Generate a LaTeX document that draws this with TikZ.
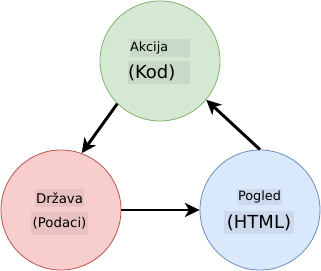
\documentclass[tikz,border=0pt]{standalone}
\usepackage{fontspec}
\setmainfont{DejaVu Sans}
\usetikzlibrary{arrows.meta}
\definecolor{cgreen}{HTML}{82b366}
\definecolor{cred}{HTML}{b85450}
\definecolor{cblue}{HTML}{6c8ebf}
\definecolor{tgreen}{HTML}{d5e8d4}
\definecolor{tred}{HTML}{f8cecc}
\definecolor{tblue}{HTML}{dae8fc}

\begin{document}
\begin{tikzpicture}[x=0.75pt, y=-0.75pt, line cap=round,
  state/.style={circle, draw=#1, line width=0.6pt, minimum size=90pt, inner sep=0pt},
  lbl/.style={fill=black, fill opacity=0.06, text opacity=1, inner sep=0pt},
  small/.style={font=\fontsize{9.6}{10}\selectfont},
  mid/.style={font=\fontsize{10}{12}\selectfont},
  big/.style={font=\fontsize{13.5}{14}\selectfont},
  arr/.style={-{Stealth[length=11pt, width=10.5pt, inset=3pt]}, line width=2.2pt, line cap=butt}]
  \useasboundingbox (0,0) rectangle (321,271);
  % states
  \node[state=cgreen, fill=tgreen] (akcija) at (160,61) {};
  \node[state=cred, fill=tred] (drzava) at (61,210) {};
  \node[state=cblue, fill=tblue] (pogled) at (260,210) {};
  % labels
  \node[lbl, small, text width=45pt, minimum height=13.5pt, align=left] (akcijaA) at (160,48) {Akcija};
  \node[lbl, big, text width=46.5pt, minimum height=17.25pt, align=left] (akcijaB) at (159,72.5) {(Kod)};
  \node[lbl, mid, minimum width=36.75pt, minimum height=13.5pt] (drzavaA) at (59.5,198) {Država};
  \node[lbl, mid, minimum width=42.75pt, minimum height=17.25pt] (drzavaB) at (59.5,223.5) {(Podaci)};
  \node[lbl, small, minimum width=33.75pt, minimum height=12pt] (pogledA) at (259.5,197) {Pogled};
  \node[lbl, big, minimum width=52.5pt, minimum height=17.25pt] (pogledB) at (259,222.5) {(HTML)};
  % cycle
  \draw[arr] (akcija.225) -- (drzava.70);
  \draw[arr] (drzava.east) -- (pogled.west);
  \draw[arr] (pogled.north) -- (akcija.-40);
\end{tikzpicture}
\end{document}
